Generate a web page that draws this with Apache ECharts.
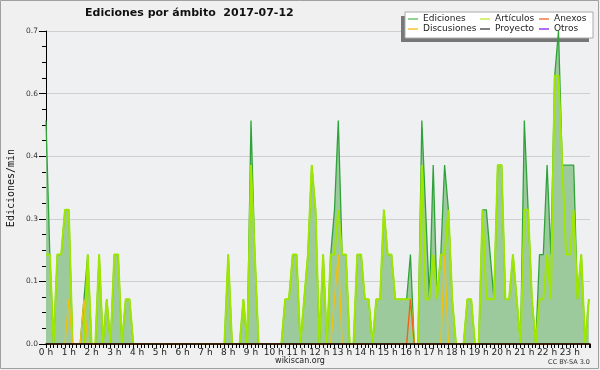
<!DOCTYPE html>
<html><head><meta charset="utf-8">
<script src="https://cdn.jsdelivr.net/npm/echarts@6/dist/echarts.min.js"></script>
<style>html,body{margin:0;padding:0;background:#f0f0f0}#c{width:600px;height:370px}</style>
</head><body><div id="c"></div>
<script>
const titleText = 'Ediciones por ámbito  2017-07-12';
const hourLabels = ['0 h','1 h','2 h','3 h','4 h','5 h','6 h','7 h','8 h','9 h','10 h','11 h','12 h','13 h','14 h','15 h','16 h','17 h','18 h','19 h','20 h','21 h','22 h','23 h'];
const yTicks = [0, 0.14, 0.28, 0.42, 0.56, 0.7];
// one value per 10 minutes, 6 values per hour
const ediciones = [
 0.5,0.2,0,0.2,0.2,0.3,  0.3,0,0,0,0.1,0.2,  0,0,0.2,0,0.1,0,  0.2,0.2,0,0.1,0.1,0,
 0,0,0,0,0,0,  0,0,0,0,0,0,  0,0,0,0,0,0,  0,0,0,0,0,0,
 0.2,0,0,0,0.1,0,  0.5,0.2,0,0,0,0,  0,0,0,0.1,0.1,0.2,  0.2,0,0.1,0.2,0.4,0.3,
 0,0.2,0,0.2,0.3,0.5,  0.2,0.2,0,0,0.2,0.2,  0.1,0.1,0,0.1,0.1,0.3,  0.2,0.2,0.1,0.1,0.1,0.1,
 0.2,0,0,0.5,0.3,0.1,  0.4,0.1,0.2,0.4,0.3,0.1,  0,0,0,0.1,0.1,0,  0,0.3,0.3,0.2,0.1,0.4,
 0.4,0.1,0.1,0.2,0.1,0,  0.5,0.3,0.1,0,0.2,0.2,  0.4,0.2,0.6,0.7,0.4,0.4,  0.4,0.4,0.1,0.2,0,0.1
];
const articulos = [
 0.2,0.2,0,0.2,0.2,0.3,  0.3,0,0,0,0,0.2,  0,0,0.2,0,0.1,0,  0.2,0.2,0,0.1,0.1,0,
 0,0,0,0,0,0,  0,0,0,0,0,0,  0,0,0,0,0,0,  0,0,0,0,0,0,
 0.2,0,0,0,0.1,0,  0.4,0.2,0,0,0,0,  0,0,0,0.1,0.1,0.2,  0.2,0,0.1,0.2,0.4,0.3,
 0,0.2,0,0.2,0.2,0.3,  0.2,0.2,0,0,0.2,0.2,  0.1,0.1,0,0.1,0.1,0.3,  0.2,0.2,0.1,0.1,0.1,0.1,
 0.1,0,0,0.4,0.1,0.1,  0.2,0.1,0.2,0.2,0.3,0.1,  0,0,0,0.1,0.1,0,  0,0.3,0.1,0.1,0.1,0.4,
 0.4,0.1,0.1,0.2,0.1,0,  0.3,0.3,0.1,0,0.1,0.1,  0.2,0.1,0.6,0.6,0.4,0.2,  0.2,0.3,0.1,0.2,0,0.1
];
const discusiones = [
 0,0,0,0,0,0,  0.1,0,0,0,0.1,0,  0,0,0,0,0,0,  0,0,0,0,0,0,
 0,0,0,0,0,0,  0,0,0,0,0,0,  0,0,0,0,0,0,  0,0,0,0,0,0,
 0,0,0,0,0,0,  0,0,0,0,0,0,  0,0,0,0,0,0,  0,0,0,0,0,0,
 0,0,0,0,0.1,0.2,  0,0,0,0,0,0,  0,0,0,0,0,0,  0,0,0,0,0,0,
 0,0,0,0,0,0,  0,0,0,0.2,0,0,  0,0,0,0,0,0,  0,0,0,0,0,0,
 0,0,0,0,0,0,  0,0,0,0,0,0,  0,0,0,0,0,0,  0,0,0,0,0,0
];
const anexos = [
 0,0,0,0,0,0,  0,0,0,0,0,0,  0,0,0,0,0,0,  0,0,0,0,0,0,
 0,0,0,0,0,0,  0,0,0,0,0,0,  0,0,0,0,0,0,  0,0,0,0,0,0,
 0,0,0,0,0,0,  0,0,0,0,0,0,  0,0,0,0,0,0,  0,0,0,0,0,0,
 0,0,0,0,0,0,  0,0,0,0,0,0,  0,0,0,0,0,0,  0,0,0,0,0,0,
 0.1,0,0,0,0,0,  0,0,0,0,0,0,  0,0,0,0,0,0,  0,0,0,0,0,0,
 0,0,0,0,0,0,  0,0,0,0,0,0,  0,0,0,0,0,0,  0,0,0,0,0,0
];
const proyecto = [
 0,0,0,0,0,0,  0,0,0,0,0,0,  0,0,0,0,0,0,  0,0,0,0,0,0,
 0,0,0,0,0,0,  0,0,0,0,0,0,  0,0,0,0,0,0,  0,0,0,0,0,0,
 0,0,0,0,0,0,  0,0,0,0,0,0,  0,0,0,0,0,0,  0,0,0,0,0,0,
 0,0,0,0,0,0,  0,0,0,0,0,0,  0,0,0,0,0,0,  0,0,0,0,0,0,
 0,0,0,0,0,0,  0,0,0,0,0,0,  0,0,0,0,0,0,  0,0,0,0,0,0,
 0,0,0,0,0,0,  0,0,0,0,0,0,  0,0,0,0,0,0,  0,0,0,0,0,0
];
const otros = [
 0,0,0,0,0,0,  0,0,0,0,0,0,  0,0,0,0,0,0,  0,0,0,0,0,0,
 0,0,0,0,0,0,  0,0,0,0,0,0,  0,0,0,0,0,0,  0,0,0,0,0,0,
 0,0,0,0,0,0,  0,0,0,0,0,0,  0,0,0,0,0,0,  0,0,0,0,0,0,
 0,0,0,0,0,0,  0,0,0,0,0,0,  0,0,0,0,0,0,  0,0,0,0,0,0,
 0,0,0,0,0,0,  0,0,0,0,0,0,  0,0,0,0,0,0,  0,0,0,0,0,0,
 0,0,0,0,0,0,  0,0,0,0,0,0,  0,0,0,0,0,0,  0,0,0,0,0,0
];

const FF = 'DejaVu Sans';
const pts = arr => arr.map((v, i) => [i, v]);
const chart = echarts.init(document.getElementById('c'), null, {renderer: 'canvas'});

const legendBase = {
  orient: 'vertical', top: 14, itemGap: 0, itemWidth: 10, itemHeight: 1.5,
  padding: 0, selectedMode: false, icon: 'rect',
  itemStyle: {borderWidth: 0},
  textStyle: {fontFamily: FF, fontSize: 9, color: '#222', lineHeight: 10, padding: [0, 0, 0, 0]}
};
const li = (name, color) => ({name: name, icon: 'rect', itemStyle: {color: color, borderWidth: 0}});

chart.setOption({
  animation: false,
  backgroundColor: '#f0f0f0',
  title: {text: titleText, left: 85, top: 8, padding: 0,
    textStyle: {fontFamily: FF, fontSize: 11, fontWeight: 'bold', color: '#111'}},
  legend: [
    Object.assign({}, legendBase, {left: 408, data: [li('Ediciones', '#6cc46c'), li('Discusiones', '#f7c531')]}),
    Object.assign({}, legendBase, {left: 480, data: [li('Artículos', '#c4ee4a'), li('Proyecto', '#555555')]}),
    Object.assign({}, legendBase, {left: 539, data: [li('Anexos', '#f57a45'), li('Otros', '#9a3df0')]})
  ],
  grid: {left: 46, right: 10, top: 31, bottom: 26, show: true, backgroundColor: '#eef0f2', borderWidth: 0},
  xAxis: {
    type: 'value', min: 0, max: 143.3, interval: 6, z: 5,
    axisLine: {lineStyle: {color: '#000', width: 1.5}},
    axisTick: {length: 4, lineStyle: {color: '#000'}},
    minorTick: {show: true, splitNumber: 6, length: 4, lineStyle: {color: '#000'}},
    splitLine: {show: false},
    axisLabel: {margin: 4, fontFamily: FF, fontSize: 9, color: '#222',
      formatter: v => { const h = Math.round(v / 6); return (Math.abs(v - h * 6) < 1e-6 && h < 24) ? hourLabels[h] : ''; }}
  },
  yAxis: {
    type: 'value', min: 0, max: 0.7, interval: 0.14,
    axisLine: {show: true, lineStyle: {color: '#000'}},
    axisTick: {show: true, length: 7, lineStyle: {color: '#000'}},
    minorTick: {show: true, splitNumber: 4, length: 4, lineStyle: {color: '#000'}},
    splitLine: {show: true, lineStyle: {color: '#cfcfcf'}},
    axisLabel: {margin: 8, fontFamily: FF, fontSize: 7.5, color: '#333',
      formatter: v => { const t = yTicks.find(x => Math.abs(x - v) < 1e-6); return (t === undefined ? v : t).toFixed(1); }}
  },
  series: [
    {name: 'Ediciones', type: 'line', data: pts(ediciones), symbol: 'none', z: 2,
      lineStyle: {color: '#2fa33a', width: 1.3}, areaStyle: {color: '#9dca9d', opacity: 1}},
    {name: 'Proyecto', type: 'line', data: pts(proyecto), symbol: 'none', z: 2,
      lineStyle: {color: '#555555', width: 1}},
    {name: 'Otros', type: 'line', data: pts(otros), symbol: 'none', z: 2,
      lineStyle: {color: '#9a3df0', width: 1}},
    {name: 'Artículos', type: 'line', data: pts(articulos), symbol: 'none', z: 3,
      lineStyle: {color: '#9fe600', width: 2}},
    {name: 'Discusiones', type: 'line', data: pts(discusiones), symbol: 'none', z: 4,
      lineStyle: {color: '#f0c010', width: 1.4}},
    {name: 'Anexos', type: 'line', data: pts(anexos), symbol: 'none', z: 4,
      lineStyle: {color: '#f0621a', width: 1.4}}
  ],
  graphic: [
    {type: 'rect', z: 1, shape: {x: 401, y: 16, width: 188, height: 26}, style: {fill: '#777777'}},
    {type: 'rect', z: 1, shape: {x: 405, y: 12, width: 188, height: 26}, style: {fill: '#ffffff', stroke: '#aaaaaa', lineWidth: 1}},
    {type: 'text', z: 1, x: 11, y: 188, rotation: Math.PI / 2,
      style: {text: 'Ediciones/min', fontFamily: 'DejaVu Sans Mono', fontSize: 10, fill: '#111', align: 'center', verticalAlign: 'middle'}},
    {type: 'text', z: 1, x: 300, y: 361,
      style: {text: 'wikiscan.org', fontFamily: FF, fontSize: 8, fill: '#222', align: 'center', verticalAlign: 'middle'}},
    {type: 'text', z: 1, x: 590, y: 362,
      style: {text: 'CC BY-SA 3.0', fontFamily: FF, fontSize: 6.5, fill: '#333', align: 'right', verticalAlign: 'middle'}},
    {type: 'rect', z: 1, shape: {x: 0.5, y: 0.5, width: 598, height: 368}, style: {fill: 'none', stroke: '#a0a0a0', lineWidth: 1}}
  ]
});
</script></body></html>
